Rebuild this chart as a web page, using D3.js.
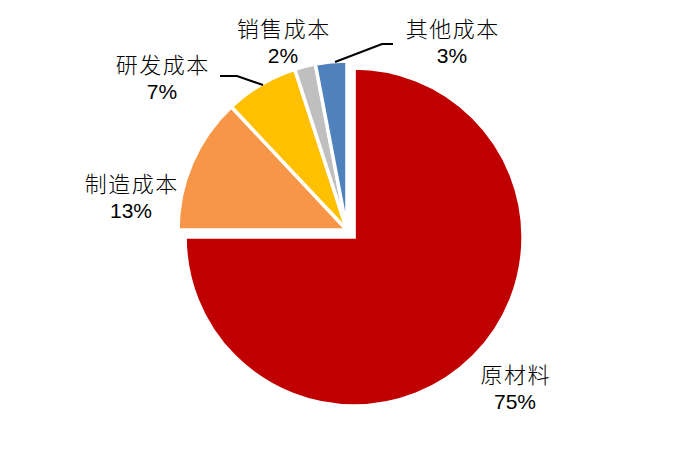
<!DOCTYPE html>
<html><head><meta charset="utf-8">
<script src="https://cdn.jsdelivr.net/npm/d3@7"></script>
<style>
html,body{margin:0;padding:0;background:#fff;}
text{fill:#000;}
.cn{font-family:"Noto Sans CJK SC",sans-serif;font-weight:300;}
.pct{font-family:"Liberation Sans Narrow","Liberation Sans",sans-serif;}
</style></head>
<body>
<svg id="chart" width="700" height="464"></svg>
<script>
const categories = ["原材料","制造成本","研发成本","销售成本","其他成本"];
const values = [75, 13, 7, 2, 3];
const colors = ["#C00000","#F79646","#FFC000","#BFBFBF","#4F81BD"];

const svg = d3.select("#chart");
const cx = 347, cy = 230, R = 169, explode = 10;
const data = categories.map((c,i)=>({name:c, value:values[i], color:colors[i]}));
const pie = d3.pie().sort(null).value(d=>d.value).startAngle(0).endAngle(2*Math.PI);
const arc = d3.arc().innerRadius(0).outerRadius(R);
const arcs = pie(data);

const g = svg.append("g").attr("transform",`translate(${cx},${cy})`);
g.selectAll("path").data(arcs).enter().append("path")
  .attr("d",arc)
  .attr("fill",d=>d.data.color)
  .attr("stroke","#fff").attr("stroke-width",3.5).attr("stroke-linejoin","miter")
  .attr("transform",(d,i)=>{
    if(i!==0) return null;
    const a=(d.startAngle+d.endAngle)/2;
    return `translate(${explode*Math.sin(a)},${-explode*Math.cos(a)})`;
  });

// label layout (style config)
const labelPos = {
  "原材料":[515,383],
  "制造成本":[131,192],
  "研发成本":[162,73],
  "销售成本":[283,37],
  "其他成本":[452,37]
};
const lbl = svg.append("g");
arcs.forEach(d=>{
  const [x,y]=labelPos[d.data.name];
  lbl.append("text").attr("class","cn").attr("text-anchor","middle").attr("font-size",22)
    .attr("letter-spacing",1.5).attr("x",x+0.75).attr("y",y).text(d.data.name);
  lbl.append("text").attr("class","pct").attr("text-anchor","middle").attr("font-size",21)
    .attr("x",x).attr("y",y+26).text(d3.format(".0f")(d.data.value)+"%");
});

// leader lines
const line = d3.line();
const leaders = [
  [[220,76],[237,76],[263,85]],
  [[393,44],[382,44],[335,62]]
];
svg.append("g").selectAll("path").data(leaders).enter().append("path")
  .attr("d",line).attr("fill","none").attr("stroke","#000").attr("stroke-width",2);
</script>
</body></html>
